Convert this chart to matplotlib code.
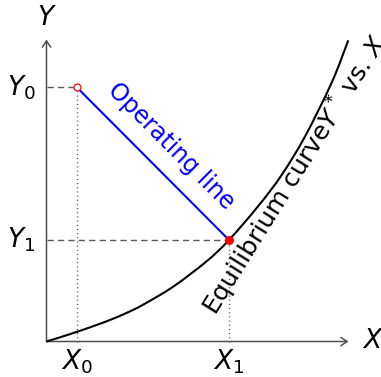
import matplotlib
matplotlib.use("Agg")
import matplotlib.pyplot as plt
from matplotlib.patches import FancyArrowPatch, PathPatch
from matplotlib.path import Path

plt.rcParams['font.family'] = ['DejaVu Sans']
plt.rcParams['mathtext.fontset'] = 'dejavusans'

# Equilibrium curve Y* vs X (points along the curve)
curve_x = [0.0, 0.142, 0.308, 0.475, 0.642, 0.808, 0.968, 1.268, 1.602,
           1.825, 2.118, 2.352, 2.585, 2.852, 3.018]
curve_y = [0.0, 0.044, 0.098, 0.156, 0.218, 0.289, 0.369, 0.549, 0.803,
           1.015, 1.355, 1.666, 2.050, 2.589, 3.012]

# Operating line end points
X0, Y0 = 0.305, 2.54
X1, Y1 = 1.825, 1.015
axis_end = 3.02


def smooth_path(xs, ys):
    """Catmull-Rom spline through the points, as cubic Bezier segments."""
    pts = list(zip(xs, ys))
    ext = [pts[0]] + pts + [pts[-1]]
    verts = [pts[0]]
    codes = [Path.MOVETO]
    for i in range(1, len(ext) - 2):
        p0, p1, p2, p3 = ext[i - 1], ext[i], ext[i + 1], ext[i + 2]
        c1 = (p1[0] + (p2[0] - p0[0]) / 6, p1[1] + (p2[1] - p0[1]) / 6)
        c2 = (p2[0] - (p3[0] - p1[0]) / 6, p2[1] - (p3[1] - p1[1]) / 6)
        verts += [c1, c2, p2]
        codes += [Path.CURVE4] * 3
    return Path(verts, codes)


fig = plt.figure(figsize=(3.81, 3.77), dpi=100)
ax = fig.add_axes([0, 0, 1, 1])
ax.set_xlim(-0.465, 3.345)
ax.set_ylim(-0.355, 3.415)
ax.set_aspect('equal')
ax.axis('off')

axis_col = '#505050'
guide_col = '#5a5a5a'

# axes with arrow heads
for end in [(axis_end, 0), (0, axis_end)]:
    ax.add_patch(FancyArrowPatch((0, 0), end,
                                 arrowstyle='->,head_length=0.45,head_width=0.3',
                                 mutation_scale=10, color=axis_col, lw=1.1,
                                 shrinkA=0, shrinkB=0))

# guide lines
ax.plot([0, X0], [Y0, Y0], color=guide_col, lw=1.0, dashes=(4.5, 3))
ax.plot([0, X1], [Y1, Y1], color=guide_col, lw=1.0, dashes=(4.5, 3))
ax.plot([X0, X0], [0, Y0], color=guide_col, lw=1.0, dashes=(0.8, 2.2))
ax.plot([X1, X1], [0, Y1], color=guide_col, lw=1.0, dashes=(0.8, 2.2))

# equilibrium curve
ax.add_patch(PathPatch(smooth_path(curve_x, curve_y), fill=False,
                       edgecolor='black', lw=1.5, capstyle='butt'))

# operating line
ax.plot([X0, X1], [Y0, Y1], color='#0000ff', lw=1.5)
ax.plot([X0], [Y0], marker='o', ms=5, mfc='white', mec='red', mew=0.9)
ax.plot([X1], [Y1], marker='o', ms=6.5, mfc='red', mec='red', mew=0)

fs_lab = 19
fs = 17
ax.text(-0.25, Y0, '$Y_0$', fontsize=fs_lab, ha='center', va='center')
ax.text(-0.25, Y1, '$Y_1$', fontsize=fs_lab, ha='center', va='center')
ax.text(X0, -0.2, '$X_0$', fontsize=fs_lab, ha='center', va='center')
ax.text(X1, -0.2, '$X_1$', fontsize=fs_lab, ha='center', va='center')
ax.text(3.26, 0.0, '$X$', fontsize=fs_lab, ha='center', va='center')
ax.text(0.0, 3.235, '$Y$', fontsize=fs_lab, ha='center', va='center')

ax.text(1.245, 1.955, 'Operating line', fontsize=fs, color='#0000ff',
        rotation=-45, rotation_mode='anchor', ha='center', va='center')
ax.text(2.49, 1.66, 'Equilibrium curve$Y^*$ vs. $X$', fontsize=18,
        rotation=58, rotation_mode='anchor', ha='center', va='center')

fig.savefig('out.png', dpi=100)
